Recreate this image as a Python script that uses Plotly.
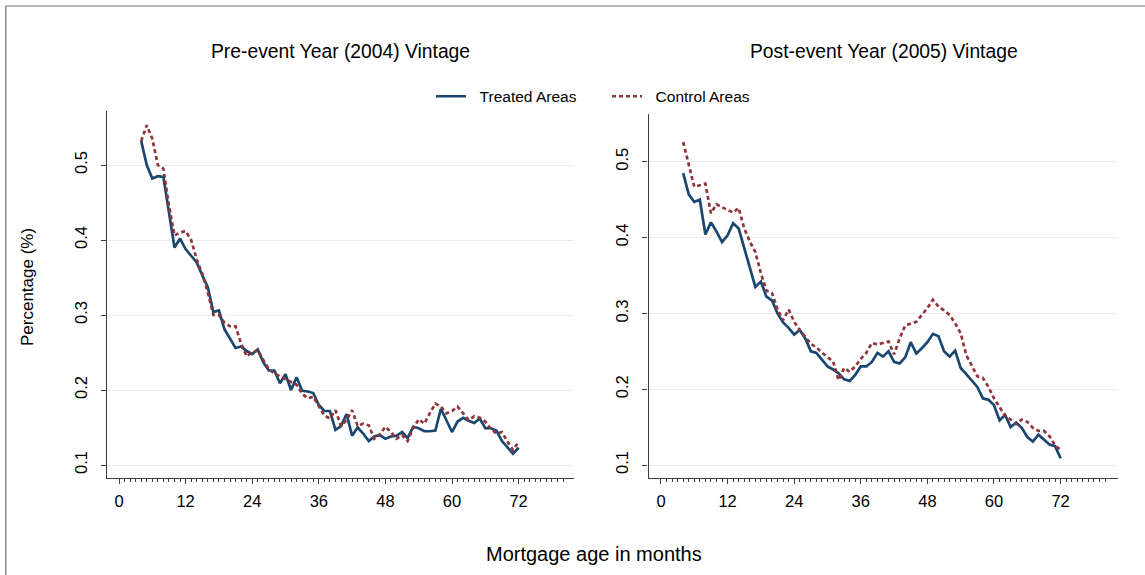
import plotly.graph_objects as go

# Mortgage age (months) for each observation
months = list(range(4, 73))

# Pre-event year (2004) vintage, percentage
pre_treated = [0.532, 0.500, 0.482, 0.485, 0.484, 0.440, 0.390, 0.402, 0.388, 0.379,
               0.370, 0.353, 0.337, 0.304, 0.306, 0.281, 0.268, 0.256, 0.258, 0.252,
               0.248, 0.254, 0.237, 0.226, 0.226, 0.209, 0.221, 0.200, 0.217, 0.199,
               0.198, 0.196, 0.180, 0.172, 0.172, 0.147, 0.152, 0.168, 0.139, 0.150,
               0.142, 0.132, 0.138, 0.140, 0.135, 0.138, 0.139, 0.144, 0.136, 0.151,
               0.149, 0.145, 0.145, 0.146, 0.175, 0.160, 0.144, 0.158, 0.163, 0.159,
               0.156, 0.162, 0.149, 0.149, 0.146, 0.132, 0.124, 0.115, 0.123]
pre_control = [0.532, 0.553, 0.535, 0.500, 0.495, 0.446, 0.406, 0.410, 0.412, 0.400,
               0.374, 0.355, 0.330, 0.300, 0.300, 0.290, 0.285, 0.285, 0.262, 0.245,
               0.250, 0.253, 0.240, 0.228, 0.222, 0.218, 0.215, 0.211, 0.207, 0.195,
               0.189, 0.191, 0.178, 0.166, 0.162, 0.173, 0.152, 0.160, 0.173, 0.152,
               0.155, 0.153, 0.135, 0.141, 0.151, 0.144, 0.135, 0.140, 0.132, 0.149,
               0.161, 0.155, 0.169, 0.182, 0.178, 0.169, 0.172, 0.178, 0.169, 0.160,
               0.165, 0.163, 0.158, 0.148, 0.142, 0.144, 0.131, 0.120, 0.131]

# Post-event year (2005) vintage, percentage
post_treated = [0.485, 0.457, 0.447, 0.450, 0.404, 0.420, 0.408, 0.394, 0.403, 0.419,
                0.412, 0.387, 0.361, 0.335, 0.342, 0.322, 0.317, 0.300, 0.288, 0.281,
                0.272, 0.278, 0.267, 0.250, 0.248, 0.239, 0.230, 0.226, 0.221, 0.213,
                0.211, 0.219, 0.230, 0.230, 0.236, 0.248, 0.243, 0.250, 0.236, 0.234,
                0.242, 0.262, 0.247, 0.254, 0.262, 0.273, 0.270, 0.250, 0.243, 0.251,
                0.228, 0.220, 0.212, 0.203, 0.188, 0.186, 0.179, 0.159, 0.166, 0.150,
                0.156, 0.149, 0.137, 0.131, 0.140, 0.134, 0.127, 0.125, 0.109]
post_control = [0.526, 0.495, 0.467, 0.469, 0.471, 0.432, 0.444, 0.440, 0.437, 0.433,
                0.439, 0.412, 0.395, 0.381, 0.353, 0.330, 0.327, 0.305, 0.291, 0.305,
                0.289, 0.278, 0.269, 0.260, 0.255, 0.248, 0.242, 0.237, 0.212, 0.228,
                0.223, 0.230, 0.240, 0.248, 0.261, 0.259, 0.261, 0.263, 0.246, 0.267,
                0.284, 0.287, 0.289, 0.298, 0.307, 0.318, 0.309, 0.304, 0.298, 0.287,
                0.274, 0.245, 0.230, 0.217, 0.215, 0.203, 0.188, 0.176, 0.165, 0.160,
                0.154, 0.160, 0.157, 0.149, 0.145, 0.145, 0.138, 0.126, 0.120]

panel_titles = ["Pre-event Year (2004) Vintage", "Post-event Year (2005) Vintage"]
series_names = ["Treated Areas", "Control Areas"]
x_ticks = [0, 12, 24, 36, 48, 60, 72]
y_ticks = [0.1, 0.2, 0.3, 0.4, 0.5]

W, H = 1145, 575
FONT = "Liberation Sans, Arial, sans-serif"
NAVY = "#1a476f"
MAROON = "#90353b"
AXIS = "#3c3c3c"
GRID = "#e6eeef"
PAD = "\u00a0\u00a0"  # space between legend key and its label


def px_x(p):
    return p / W


def px_y(p):
    return 1 - p / H


fig = go.Figure()

panels = [
    dict(xa="x", ya="y", treated=pre_treated, control=pre_control),
    dict(xa="x2", ya="y2", treated=post_treated, control=post_control),
]
for i, p in enumerate(panels):
    fig.add_trace(go.Scatter(
        x=months, y=p["treated"], xaxis=p["xa"], yaxis=p["ya"],
        mode="lines", name=PAD + series_names[0], showlegend=(i == 0),
        line=dict(color=NAVY, width=2.7),
    ))
    fig.add_trace(go.Scatter(
        x=months, y=p["control"], xaxis=p["xa"], yaxis=p["ya"],
        mode="lines", name=PAD + series_names[1], showlegend=(i == 0),
        line=dict(color=MAROON, width=2.7, dash="4px,3px"),
    ))

xaxis_common = dict(
    tickmode="array", tickvals=x_ticks, ticks="outside", ticklen=5,
    tickwidth=1.2, tickcolor=AXIS, showline=True, linecolor=AXIS, linewidth=1.3,
    showgrid=False, zeroline=False, automargin=False,
    tickfont=dict(family=FONT, size=16.5, color="#000"),
    ticklabelstandoff=3,
    minor=dict(tickvals=list(range(0, 81)), ticks="outside", ticklen=3,
               tickcolor=AXIS, tickwidth=1),
)
yaxis_common = dict(
    tickmode="array", tickvals=y_ticks, ticktext=["0.1", "0.2", "0.3", "0.4", "0.5"],
    ticks="outside", ticklen=5, tickwidth=1.2, tickcolor=AXIS,
    showline=True, linecolor=AXIS, linewidth=1.3,
    showgrid=True, gridcolor=GRID, gridwidth=1.3, zeroline=False, automargin=False,
    tickangle=-90, tickfont=dict(family=FONT, size=16.5, color="#000"),
    ticklabelstandoff=8,
)

fig.update_layout(
    width=W, height=H,
    margin=dict(l=0, r=0, t=0, b=0),
    paper_bgcolor="white", plot_bgcolor="white",
    xaxis=dict(domain=[px_x(107.4), px_x(574)], range=[-2.09, 81.98], anchor="y", **xaxis_common),
    yaxis=dict(domain=[px_y(478), px_y(111)], range=[0.0827, 0.572], anchor="x", **yaxis_common),
    xaxis2=dict(domain=[px_x(648.6), px_x(1117.6)], range=[-2.23, 82.27], anchor="y2", **xaxis_common),
    yaxis2=dict(domain=[px_y(478), px_y(114)], range=[0.0829, 0.563], anchor="x2", **yaxis_common),
    legend=dict(
        orientation="h", x=px_x(431), xanchor="left", y=px_y(96.7), yanchor="middle",
        font=dict(family=FONT, size=15.5, color="#000"), bgcolor="rgba(0,0,0,0)",
        itemwidth=30, tracegroupgap=0, entrywidth=131, entrywidthmode="pixels",
    ),
    showlegend=True,
)

annotations = [
    dict(text=panel_titles[0], x=px_x(340), y=px_y(51.7)),
    dict(text=panel_titles[1], x=px_x(884), y=px_y(51.7)),
]
for a in annotations:
    fig.add_annotation(xref="paper", yref="paper", showarrow=False,
                       xanchor="center", yanchor="middle",
                       font=dict(family=FONT, size=19.3, color="#000"), **a)

fig.add_annotation(text="Mortgage age in months", xref="paper", yref="paper",
                   x=px_x(594), y=px_y(554), showarrow=False,
                   xanchor="center", yanchor="middle",
                   font=dict(family=FONT, size=20, color="#000"))
fig.add_annotation(text="Percentage (%)", xref="paper", yref="paper",
                   x=px_x(27), y=px_y(287), showarrow=False, textangle=-90,
                   xanchor="center", yanchor="middle",
                   font=dict(family=FONT, size=17, color="#000"))

# outer graph-region frame (left and top edges)
fig.add_shape(type="line", xref="paper", yref="paper",
              x0=px_x(5.8), y0=0, x1=px_x(5.8), y1=px_y(6),
              line=dict(color="#6e6e6e", width=1.2))
fig.add_shape(type="line", xref="paper", yref="paper",
              x0=px_x(5.8), y0=px_y(6), x1=1, y1=px_y(6),
              line=dict(color="#6e6e6e", width=1.2))

fig.write_html("out.html")
